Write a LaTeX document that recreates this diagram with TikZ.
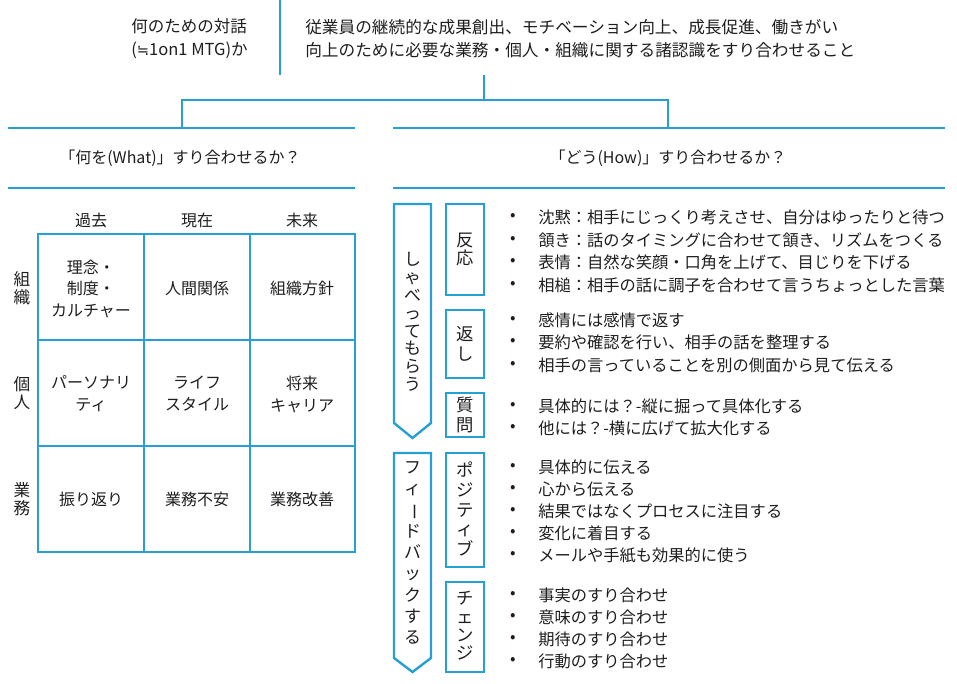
\documentclass[tikz,border=0pt]{standalone}
\usepackage{fontspec}
\setmainfont{Noto Sans CJK JP}
\newfontfamily\dvfont{DejaVu Sans}
\definecolor{lb}{RGB}{38,160,210}
\definecolor{tx}{RGB}{30,30,30}
\begin{document}
\begin{tikzpicture}[x=0.75pt,y=-0.75pt,
  ln/.style={draw=lb,line width=1.8pt},
  txt/.style={text=tx,inner sep=0pt,font=\fontsize{12}{17.2}\selectfont},
  vtxt/.style={text=tx,inner sep=0pt,align=center},
  bul/.style={text=tx,inner sep=0pt,font=\fontsize{12.2}{14}\selectfont}]
\useasboundingbox (0,0) rectangle (957,684);
% top
\node[txt,anchor=west,align=left,font=\fontsize{12.4}{17.2}\selectfont] (q) at (131,38.5) {何のための対話\\({\dvfont\fontsize{11}{13}\selectfont ≒}1on1 MTG)か};
\node[txt,anchor=west,align=left,font=\fontsize{12.5}{17.2}\selectfont] (a) at (305,38.5) {従業員の継続的な成果創出、モチベーション向上、成長促進、働きがい\\向上のために必要な業務・個人・組織に関する諸認識をすり合わせること};
\coordinate (s1) at (280,0); \coordinate (s2) at (280,75);
\draw[ln] (s1) -- (s2);
\coordinate (c0) at (484,75); \coordinate (c1) at (484,100);
\coordinate (cl) at (182,100); \coordinate (cr) at (668,100);
\coordinate (cl2) at (182,128); \coordinate (cr2) at (668,128);
\draw[ln] (c0) -- (c1);
\draw[ln] (cl2) -- (cl) -- (cr) -- (cr2);
% header lines
\draw[ln] (8,128) -- (355,128);
\draw[ln] (8,188) -- (355,188);
\draw[ln] (393,128) -- (945,128);
\draw[ln] (393,188) -- (945,188);
\node[txt] (hw) at (180,158) {「何を(What)」すり合わせるか？};
\node[txt] (hh) at (668,158) {「どう(How)」すり合わせるか？};
% grid
\node[txt] (k1) at (91,220) {過去};
\node[txt] (k2) at (197,220) {現在};
\node[txt] (k3) at (302,220) {未来};
\node[vtxt,font=\fontsize{12.5}{13.5}\selectfont] (r1) at (22,288) {組\\織};
\node[vtxt,font=\fontsize{12.5}{13.5}\selectfont] (r2) at (22,393) {個\\人};
\node[vtxt,font=\fontsize{12.5}{13.5}\selectfont] (r3) at (22,499) {業\\務};
\draw[ln] (38,234) rectangle (355,552);
\draw[ln] (144,234) -- (144,552);
\draw[ln] (250,234) -- (250,552);
\draw[ln] (38,340) -- (355,340);
\draw[ln] (38,446) -- (355,446);
\node[txt,align=center,font=\fontsize{12}{16.2}\selectfont] (g11) at (91,289) {理念・\\制度・\\カルチャー};
\node[txt] (g12) at (197,288) {人間関係};
\node[txt] (g13) at (302,288) {組織方針};
\node[txt,align=center,font=\fontsize{12}{16.5}\selectfont] (g21) at (91,394) {パーソナリ\\ティ};
\node[txt,align=center,font=\fontsize{12}{16.5}\selectfont] (g22) at (197,394) {ライフ\\スタイル};
\node[txt,align=center,font=\fontsize{12}{16.5}\selectfont] (g23) at (302,394) {将来\\キャリア};
\node[txt] (g31) at (91,499) {振り返り};
\node[txt] (g32) at (197,499) {業務不安};
\node[txt] (g33) at (302,499) {業務改善};
% pentagons
\draw[ln] (394,204) -- (431,204) -- (431,423) -- (412.5,438) -- (394,423) -- cycle;
\draw[ln] (394,453) -- (431,453) -- (431,658) -- (412.5,672) -- (394,658) -- cycle;
\node[vtxt,font=\fontsize{12.7}{13.4}\selectfont] (p1) at (412.5,322) {し\\ゃ\\べ\\っ\\て\\も\\ら\\う};
\node[vtxt,font=\fontsize{12.7}{16}\selectfont] (p2) at (412.5,553) {フ\\ィ\\\rotatebox[origin=c]{-90}{ー}\\ド\\バ\\ッ\\ク\\す\\る};
% small boxes
\draw[ln] (446,204) rectangle (484,295);
\draw[ln] (446,310) rectangle (484,378);
\draw[ln] (446,393) rectangle (484,437);
\draw[ln] (446,453) rectangle (484,567);
\draw[ln] (446,582) rectangle (484,672);
\node[vtxt,font=\fontsize{13}{13.2}\selectfont] (b1) at (465,249.5) {反\\応};
\node[vtxt,font=\fontsize{13}{15}\selectfont] (b2) at (465,344) {返\\し};
\node[vtxt,font=\fontsize{13}{15}\selectfont] (b3) at (465,415) {質\\問};
\node[vtxt,font=\fontsize{13}{14.7}\selectfont] (b4) at (465,509) {ポ\\ジ\\テ\\ィ\\ブ};
\node[vtxt,font=\fontsize{13}{13.8}\selectfont] (b5) at (465,626) {チ\\ェ\\ン\\ジ};
% bullets
\foreach \yy/\tt [count=\i] in {
 217/沈黙：相手にじっくり考えさせ、自分はゆったりと待つ,
 240/頷き：話のタイミングに合わせて頷き、リズムをつくる,
 262/表情：自然な笑顔・口角を上げて、目じりを下げる,
 285/相槌：相手の話に調子を合わせて言うちょっとした言葉,
 320/感情には感情で返す,
 342/要約や確認を行い、相手の話を整理する,
 365/相手の言っていることを別の側面から見て伝える,
 406/具体的には？-縦に掘って具体化する,
 428/他には？-横に広げて拡大化する,
 467/具体的に伝える,
 489/心から伝える,
 511/結果ではなくプロセスに注目する,
 533/変化に着目する,
 555/メールや手紙も効果的に使う,
 595/事実のすり合わせ,
 617/意味のすり合わせ,
 639/期待のすり合わせ,
 661/行動のすり合わせ}{
  \node[bul] (d\i) at (513,\yy) {•};
  \node[bul,anchor=west] (t\i) at (538,\yy) {\tt};
}
\end{tikzpicture}
\end{document}
